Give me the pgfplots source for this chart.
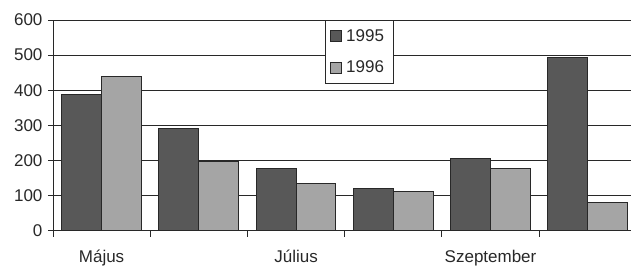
\documentclass[border=0pt]{standalone}
\usepackage{pgfplots}
\pgfplotsset{compat=1.18}
\usepackage{fontspec}
\setmainfont{Liberation Sans}
\definecolor{darkbar}{RGB}{88,88,88}
\definecolor{lightbar}{RGB}{165,165,165}
\definecolor{lin}{RGB}{40,40,40}
\begin{document}
\begin{tikzpicture}
\begin{axis}[
  scale only axis,
  width=578pt, height=211pt,
  xmin=-0.5, xmax=5.44,
  ymin=0, ymax=600,
  ytick={0,100,...,600},
  ymajorgrids,
  grid style={lin, line width=0.9pt},
  axis x line=bottom, axis y line=left,
  axis line style={lin, line width=0.9pt, -},
  tick style={lin, line width=0.9pt},
  tick align=outside,
  xtick={0,2,4},
  xticklabels={Május,Július,Szeptember},
  major x tick style={draw=none},
  minor xtick={-0.5,0.5,1.5,2.5,3.5,4.5},
  minor tick length=6pt,
  major tick length=5pt,
  xticklabel style={yshift=-11pt},
  yticklabel style={xshift=-2pt},
  ticklabel style={font=\fontsize{17}{19}\selectfont, text=lin},
  /pgf/number format/assume math mode=true,
  ybar=0pt, bar width=0.41,
  legend style={at={(0.471,1)}, anchor=north west, draw=lin, line width=0.8pt,
    font=\fontsize{17}{19}\selectfont, row sep=14pt, inner xsep=5pt, inner ysep=7pt,
    text=lin, nodes={inner xsep=4pt}},
  legend cell align=left,
  legend image code/.code={\draw[#1, line width=0.8pt] (0pt,-5.5pt) rectangle (11pt,5.5pt);},
]
\addplot[fill=darkbar, draw=lin, line width=1pt] coordinates {(0,389) (1,290) (2,177) (3,121) (4,206) (5,493)};
\addplot[fill=lightbar, draw=lin, line width=1pt] coordinates {(0,438) (1,196) (2,134) (3,112) (4,177) (5,82)};
\legend{1995,1996}
\end{axis}
\path ([xshift=-53pt,yshift=-33pt]current axis.south west) rectangle ([yshift=20pt]current axis.north east);
\end{tikzpicture}
\end{document}
